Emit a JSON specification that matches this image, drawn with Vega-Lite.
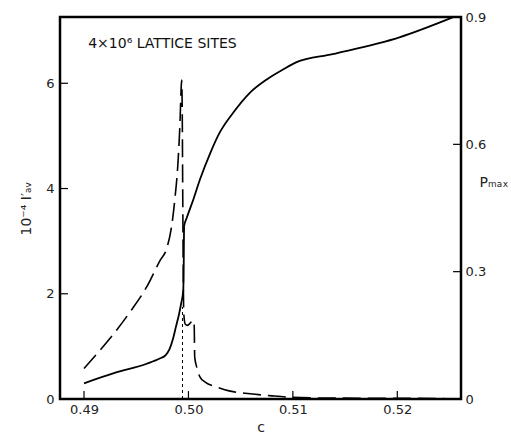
{
  "$schema": "https://vega.github.io/schema/vega-lite/v6.json",
  "width": 401,
  "height": 382,
  "autosize": "none",
  "padding": {"left": 60, "top": 17, "right": 50, "bottom": 36},
  "background": "white",
  "config": {
    "view": {"stroke": "black", "strokeWidth": 2.5},
    "axis": {
      "labelFont": "DejaVu Sans",
      "labelFontSize": 13,
      "labelColor": "#222",
      "titleFont": "DejaVu Sans",
      "titleFontWeight": "normal",
      "titleFontSize": 14,
      "titleColor": "#222",
      "ticks": false,
      "grid": false,
      "domain": false
    }
  },
  "layer": [
    {
      "layer": [
        {
          "data": {"values": [
            {"c": 0.4900, "I": 0.58},
            {"c": 0.4915, "I": 0.92},
            {"c": 0.4930, "I": 1.28},
            {"c": 0.4945, "I": 1.68},
            {"c": 0.4960, "I": 2.13},
            {"c": 0.4973, "I": 2.64},
            {"c": 0.4979, "I": 2.85},
            {"c": 0.4984, "I": 3.3},
            {"c": 0.4987, "I": 3.8},
            {"c": 0.4990, "I": 4.5},
            {"c": 0.4992, "I": 5.3},
            {"c": 0.4993, "I": 5.9},
            {"c": 0.49935, "I": 6.06},
            {"c": 0.4994, "I": 5.6},
            {"c": 0.49945, "I": 4.0},
            {"c": 0.4995, "I": 2.5},
            {"c": 0.49955, "I": 1.63},
            {"c": 0.4997, "I": 1.42},
            {"c": 0.4999, "I": 1.40},
            {"c": 0.5002, "I": 1.45},
            {"c": 0.5004, "I": 1.50},
            {"c": 0.50055, "I": 1.4},
            {"c": 0.5006, "I": 0.8},
            {"c": 0.5008, "I": 0.6},
            {"c": 0.5011, "I": 0.42},
            {"c": 0.5016, "I": 0.32},
            {"c": 0.5027, "I": 0.23},
            {"c": 0.5040, "I": 0.15},
            {"c": 0.5059, "I": 0.10},
            {"c": 0.5080, "I": 0.06},
            {"c": 0.5100, "I": 0.03},
            {"c": 0.5120, "I": 0.02},
            {"c": 0.5245, "I": 0.01}
          ]},
          "mark": {"type": "line", "color": "black", "strokeWidth": 1.6, "strokeDash": [18, 7], "interpolate": "monotone"},
          "encoding": {
            "x": {"field": "c", "type": "quantitative",
                  "scale": {"domain": [0.4877, 0.5261], "nice": false, "zero": false},
                  "axis": {"values": [0.49, 0.5, 0.51, 0.52], "format": ".2f", "title": "c", "labelPadding": 4, "titlePadding": 4}},
            "y": {"field": "I", "type": "quantitative",
                  "scale": {"domain": [0, 7.26], "nice": false},
                  "axis": {"orient": "left", "values": [0, 2, 4, 6], "title": "10⁻⁴ I′ₐᵥ", "labelPadding": 6, "titlePadding": 12}}
          }
        },
        {
          "data": {"values": [{"c": 0.49943, "y0": 0, "y1": 1.75}]},
          "mark": {"type": "rule", "color": "black", "strokeWidth": 1, "strokeDash": [3, 3]},
          "encoding": {
            "x": {"field": "c", "type": "quantitative"},
            "y": {"field": "y0", "type": "quantitative"},
            "y2": {"field": "y1"}
          }
        },
        {
          "data": {"values": [{"c": 0.49}, {"c": 0.5}, {"c": 0.51}, {"c": 0.52}]},
          "mark": {"type": "rule", "color": "black", "strokeWidth": 1.2},
          "encoding": {
            "x": {"field": "c", "type": "quantitative"},
            "y": {"datum": 0},
            "y2": {"datum": 0.15}
          }
        },
        {
          "data": {"values": [{"I": 2}, {"I": 4}, {"I": 6}]},
          "mark": {"type": "rule", "color": "black", "strokeWidth": 1.2},
          "encoding": {
            "y": {"field": "I", "type": "quantitative"},
            "x": {"datum": 0.4877},
            "x2": {"datum": 0.48846}
          }
        },
        {
          "data": {"values": [{"c": 0.4904, "y": 6.75, "label": "4×10⁶ LATTICE SITES"}]},
          "mark": {"type": "text", "align": "left", "baseline": "middle", "font": "DejaVu Sans", "fontSize": 14, "color": "#111"},
          "encoding": {
            "x": {"field": "c", "type": "quantitative"},
            "y": {"field": "y", "type": "quantitative"},
            "text": {"field": "label"}
          }
        }
      ]
    },
    {
      "layer": [
        {
          "data": {"values": [
            {"c": 0.4900, "P": 0.037},
            {"c": 0.4930, "P": 0.062},
            {"c": 0.4960, "P": 0.083},
            {"c": 0.4973, "P": 0.096},
            {"c": 0.4978, "P": 0.103},
            {"c": 0.4982, "P": 0.118},
            {"c": 0.4985, "P": 0.14},
            {"c": 0.4988, "P": 0.17},
            {"c": 0.4991, "P": 0.2},
            {"c": 0.4993, "P": 0.225},
            {"c": 0.4995, "P": 0.255},
            {"c": 0.49955, "P": 0.32},
            {"c": 0.49958, "P": 0.407},
            {"c": 0.49984, "P": 0.427},
            {"c": 0.50047, "P": 0.47},
            {"c": 0.5011, "P": 0.517},
            {"c": 0.5021, "P": 0.58},
            {"c": 0.5030, "P": 0.628},
            {"c": 0.5043, "P": 0.675},
            {"c": 0.5059, "P": 0.722},
            {"c": 0.5075, "P": 0.753},
            {"c": 0.5091, "P": 0.777},
            {"c": 0.5103, "P": 0.793},
            {"c": 0.5138, "P": 0.8125},
            {"c": 0.5202, "P": 0.852},
            {"c": 0.5253, "P": 0.899}
          ]},
          "mark": {"type": "line", "color": "black", "strokeWidth": 1.8, "interpolate": "monotone"},
          "encoding": {
            "x": {"field": "c", "type": "quantitative"},
            "y": {"field": "P", "type": "quantitative",
                  "scale": {"domain": [0, 0.9], "nice": false},
                  "axis": {"orient": "right", "values": [0, 0.3, 0.6, 0.9], "format": "~g", "title": "Pₘₐₓ", "titleAngle": 0, "titleAlign": "left", "titleBaseline": "middle", "titleY": 165, "titleX": 18, "labelPadding": 4}}
          }
        },
        {
          "data": {"values": [{"P": 0.3}, {"P": 0.6}]},
          "mark": {"type": "rule", "color": "black", "strokeWidth": 1.2},
          "encoding": {
            "y": {"field": "P", "type": "quantitative"},
            "x": {"datum": 0.5261},
            "x2": {"datum": 0.52534}
          }
        }
      ]
    }
  ],
  "resolve": {"scale": {"y": "independent"}}
}
